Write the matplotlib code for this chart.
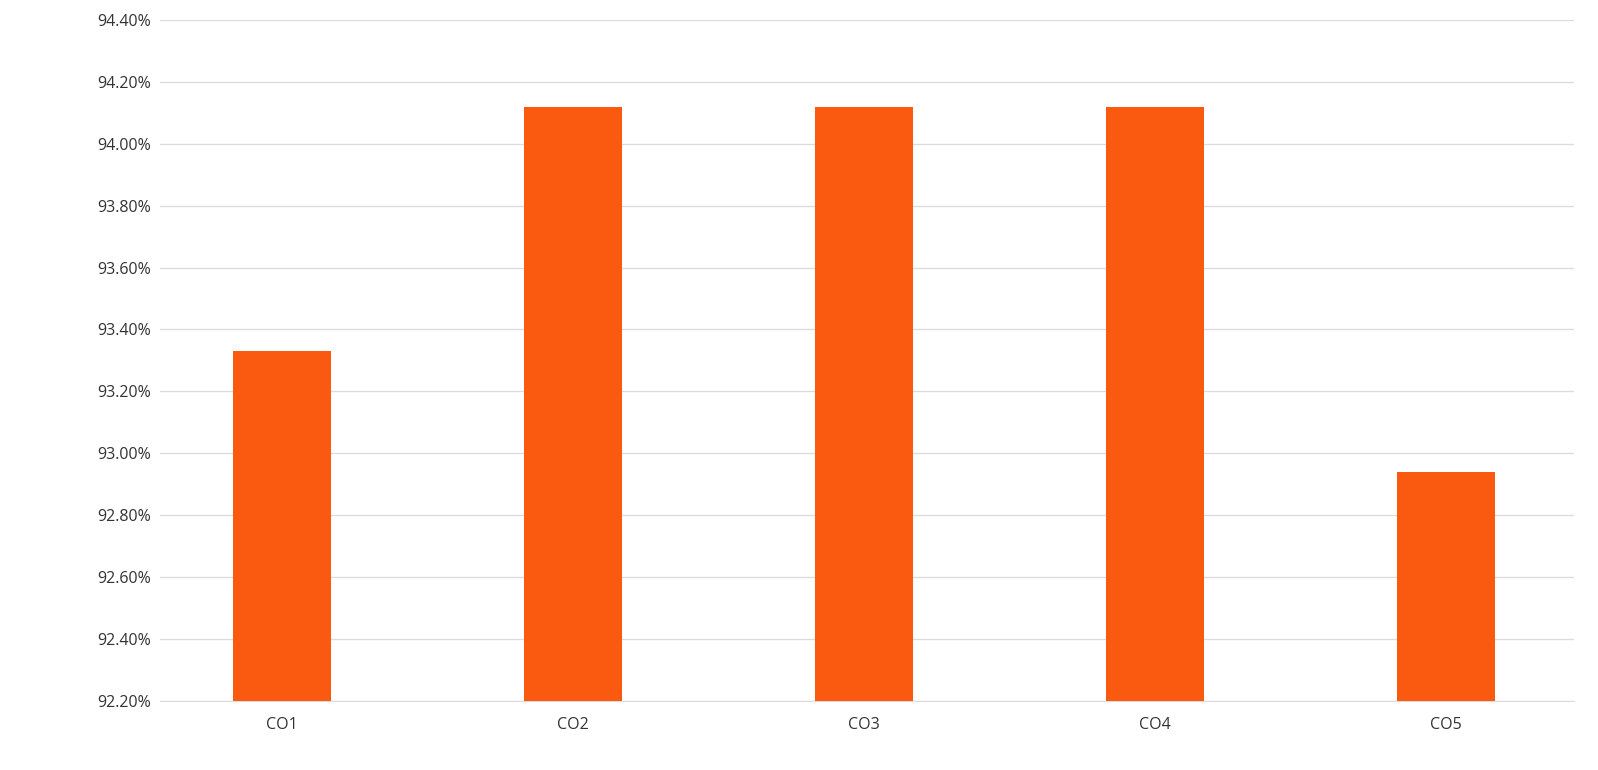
import numpy as np
import matplotlib.pyplot as plt
from matplotlib.ticker import FuncFormatter

categories = ["CO1", "CO2", "CO3", "CO4", "CO5"]
values = [93.33, 94.12, 94.12, 94.12, 92.94]
y_ticks = [92.2, 92.4, 92.6, 92.8, 93.0, 93.2, 93.4, 93.6, 93.8, 94.0, 94.2, 94.4]

plt.rcParams["font.family"] = ["Open Sans", "DejaVu Sans"]

fig = plt.figure(figsize=(15.98, 7.70), dpi=100)
ax = fig.add_axes([0.1, 0.09, 0.885, 0.884])

x = np.arange(len(categories))
ax.bar(x, values, width=0.34, color="#FA5A10", zorder=3)

ax.set_ylim(92.2, 94.4)
ax.set_yticks(y_ticks)
ax.yaxis.set_major_formatter(FuncFormatter(lambda v, _: f"{v:.2f}%"))
ax.set_xlim(-0.42, 4.44)
ax.set_xticks(x)
ax.set_xticklabels(categories)

ax.grid(axis="y", color="#dcdcdc", linewidth=1, zorder=0)
for s in ax.spines.values():
    s.set_visible(False)
ax.spines["bottom"].set_visible(True)
ax.spines["bottom"].set_color("#dcdcdc")
ax.tick_params(length=0, labelsize=11.5, colors="#333333")
ax.tick_params(axis="y", pad=6)
ax.tick_params(axis="x", pad=12)

fig.savefig("out.png", dpi=100, facecolor="white")
